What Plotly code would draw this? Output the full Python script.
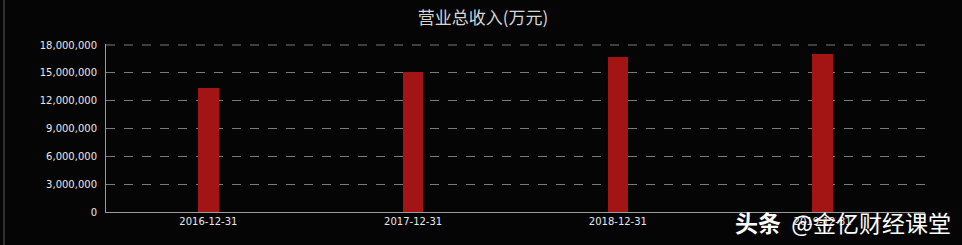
import plotly.graph_objects as go

categories = ["2016-12-31", "2017-12-31", "2018-12-31", "2019-12-31"]
revenue = [13330000, 15090000, 16670000, 17060000]
y_ticks = [0, 3000000, 6000000, 9000000, 12000000, 15000000, 18000000]
title_text = "营业总收入(万元)"
watermark = "<b>头条</b>  @金亿财经课堂"

W, H = 962, 245
L, R, T, B = 106, 37, 44, 33
pw = W - L - R
ph = H - T - B
y_top = 18000000 * ph / 167.0

fig = go.Figure(go.Bar(
    x=categories, y=revenue, width=0.1,
    marker=dict(color="#a31414", line=dict(width=0)),
))

fig.update_layout(
    width=W, height=H,
    margin=dict(l=L, r=R, t=T, b=B, autoexpand=False),
    paper_bgcolor="#050505", plot_bgcolor="#050505",
    showlegend=False,
    title=dict(text=title_text, x=0.502, xref="container", xanchor="center",
               y=1 - 18 / H, yanchor="middle",
               font=dict(family="Noto Sans CJK SC", size=17, color="#d6d6d6")),
    font=dict(family="DejaVu Sans", size=10, color="#e8e8e8"),
    bargap=0,
)
fig.update_xaxes(
    type="category",
    showline=True, linecolor="#9a9a9a", linewidth=1,
    showgrid=False, ticks="", tickfont=dict(size=10, color="#e8e8e8"),
    range=[-0.5, 3.5], fixedrange=True,
)
fig.update_yaxes(
    range=[0, y_top], tickvals=y_ticks, tickformat=",d",
    showline=True, linecolor="#9a9a9a", linewidth=1,
    showgrid=True, gridcolor="#7a7a7a", griddash="dash", gridwidth=1,
    zeroline=False, ticks="", ticklabelstandoff=6,
    tickfont=dict(size=10, color="#e8e8e8"),
)
# top dashed gridline (drawn explicitly since it sits at the plot edge)
fig.add_shape(type="line", xref="paper", yref="y", layer="below",
              x0=0, x1=1, y0=y_ticks[-1], y1=y_ticks[-1],
              line=dict(color="#7a7a7a", width=1, dash="dash"))
# left border line of the frame
fig.add_shape(type="line", xref="paper", yref="paper",
              x0=(4 - L) / pw, x1=(4 - L) / pw,
              y0=-B / ph, y1=(H - B) / ph,
              line=dict(color="#5a5a5a", width=1))
fig.add_annotation(text=watermark, xref="paper", yref="paper",
                   x=(953 - L) / pw, xanchor="right",
                   y=-(222 - (H - B)) / ph, yanchor="middle",
                   showarrow=False,
                   font=dict(family="Noto Sans CJK SC", size=23, color="#ffffff"))

fig.write_html("out.html")
